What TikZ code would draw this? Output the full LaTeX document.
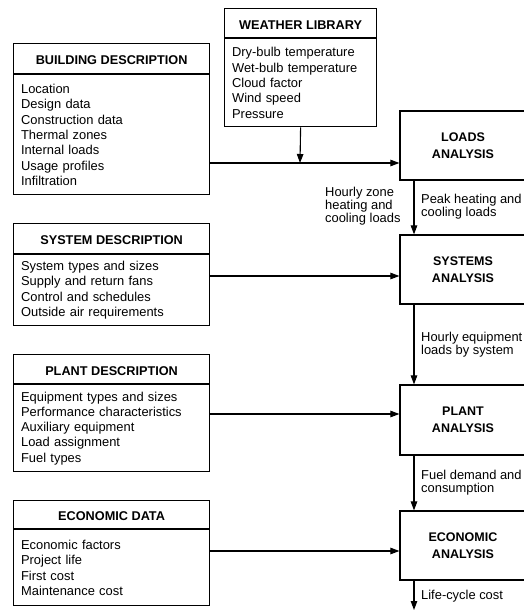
\documentclass[tikz,border=0pt]{standalone}
\usepackage{fontspec}
\setmainfont{Liberation Sans}
\usetikzlibrary{arrows.meta}
\begin{document}
\begin{tikzpicture}[x=1pt,y=-1pt,
  ttl/.style={draw, line width=1.2pt, minimum width=196pt, minimum height=30pt, inner sep=0pt, text height=12pt, text depth=0pt, font=\fontsize{12.7}{15}\selectfont\bfseries},
  bod/.style={draw, line width=1.2pt, minimum width=196pt, text width=181pt, inner xsep=7.5pt, inner ysep=0pt, align=left, font=\fontsize{12.9}{15.3}\selectfont},
  ana/.style={draw, line width=1.2pt, minimum width=126pt, minimum height=69pt, align=center, font=\fontsize{12.5}{17}\selectfont\bfseries},
  lbl/.style={inner sep=0pt, anchor=north west, align=left, font=\fontsize{12.9}{13}\selectfont},
  arr/.style={line width=1.1pt, -{Triangle[length=9pt,width=6.5pt]}}]
\useasboundingbox (0,0) rectangle (524,610);

% description boxes
\node[ttl, anchor=north west] (bdt) at (13,43) {BUILDING DESCRIPTION};
\node[bod, minimum height=120pt, anchor=north] (bdb) at (bdt.south) {Location\\Design data\\Construction data\\Thermal zones\\Internal loads\\Usage profiles\\Infiltration};

\node[ttl, minimum width=152pt, minimum height=29pt, anchor=north west] (wlt) at (224,8) {WEATHER LIBRARY};
\node[bod, minimum width=152pt, text width=137pt, minimum height=88pt, anchor=north] (wlb) at (wlt.south) {Dry-bulb temperature\\Wet-bulb temperature\\Cloud factor\\Wind speed\\Pressure};

\node[ttl, anchor=north west] (sdt) at (13,223) {SYSTEM DESCRIPTION};
\node[bod, minimum height=71pt, anchor=north] (sdb) at (sdt.south) {System types and sizes\\Supply and return fans\\Control and schedules\\Outside air requirements};

\node[ttl, minimum height=29pt, anchor=north west] (pdt) at (13,354) {PLANT DESCRIPTION};
\node[bod, minimum height=87pt, anchor=north] (pdb) at (pdt.south) {Equipment types and sizes\\Performance characteristics\\Auxiliary equipment\\Load assignment\\Fuel types};

\node[ttl, minimum height=28pt, anchor=north west] (edt) at (13,500) {ECONOMIC DATA};
\node[bod, minimum height=76pt, anchor=north] (edb) at (edt.south) {Economic factors\\Project life\\First cost\\Maintenance cost};

% analysis boxes
\node[ana] (la) at (463,145.5) {LOADS\\ANALYSIS};
\node[ana] (sa) at (463,269.5) {SYSTEMS\\ANALYSIS};
\node[ana, minimum height=70pt] (pa) at (463,420) {PLANT\\ANALYSIS};
\node[ana] (ea) at (463,545.5) {ECONOMIC\\ANALYSIS};

% helper coordinates
\coordinate (j1) at (300,163);
\coordinate (y2) at (0,276);
\coordinate (y3) at (0,414);
\coordinate (y4) at (0,551);
\coordinate (vx) at (414,0);
\coordinate (out) at (414,610);

% connectors
\draw[arr] (bdb.east |- j1) -- (la.west |- j1);
\draw[arr] (wlb.south) -- (j1);
\draw[arr] (sdb.east |- y2) -- (sa.west |- y2);
\draw[arr] (pdb.east |- y3) -- (pa.west |- y3);
\draw[arr] (edb.east |- y4) -- (ea.west |- y4);
\draw[arr] (la.south -| vx) -- (sa.north -| vx);
\draw[arr] (sa.south -| vx) -- (pa.north -| vx);
\draw[arr] (pa.south -| vx) -- (ea.north -| vx);
\draw[arr] (ea.south -| vx) -- (out);

% labels
\node[lbl] (l1) at (325,186.7) {Hourly zone\\heating and\\cooling loads};
\node[lbl] (l2) at (421,193.7) {Peak heating and\\cooling loads};
\node[lbl] (l3) at (421,331.7) {Hourly equipment\\loads by system};
\node[lbl] (l4) at (421,470) {Fuel demand and\\consumption};
\node[lbl] (l5) at (421,590) {Life-cycle cost};
\end{tikzpicture}
\end{document}
